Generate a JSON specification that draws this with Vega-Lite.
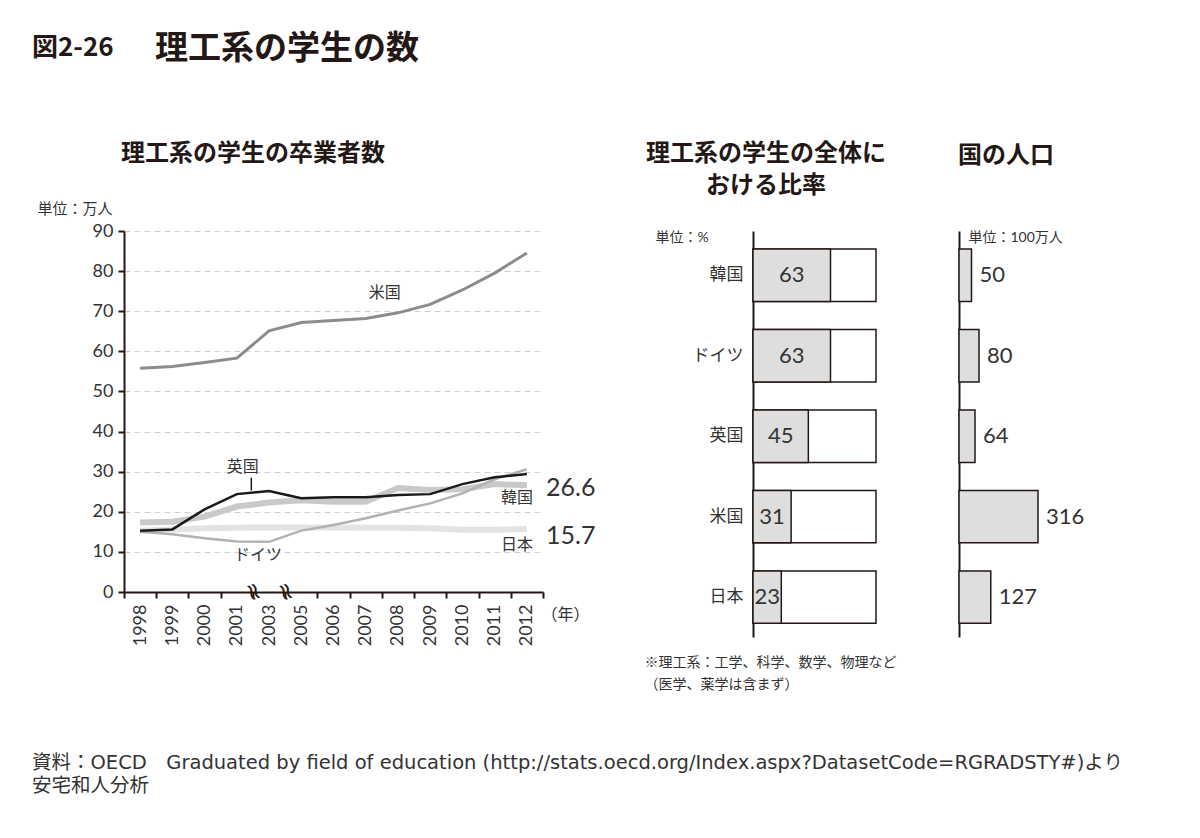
{
  "$schema": "https://vega.github.io/schema/vega-lite/v6.json",
  "background": "white",
  "padding": {"left": 32, "top": 33, "right": 10, "bottom": 10},
  "title": {
    "text": "図2-26", "anchor": "start", "frame": "bounds", "offset": -28,
    "font": "Noto Sans CJK JP", "fontSize": 26, "fontWeight": "bold"
  },
  "datasets": {
    "grad": [
      {"country": "米国", "year": "1998", "value": 55.8}, {"country": "米国", "year": "1999", "value": 56.2},
      {"country": "米国", "year": "2000", "value": 57.2}, {"country": "米国", "year": "2001", "value": 58.3},
      {"country": "米国", "year": "2003", "value": 65.1}, {"country": "米国", "year": "2005", "value": 67.2},
      {"country": "米国", "year": "2006", "value": 67.7}, {"country": "米国", "year": "2007", "value": 68.2},
      {"country": "米国", "year": "2008", "value": 69.6}, {"country": "米国", "year": "2009", "value": 71.7},
      {"country": "米国", "year": "2010", "value": 75.3}, {"country": "米国", "year": "2011", "value": 79.5},
      {"country": "米国", "year": "2012", "value": 84.5},
      {"country": "英国", "year": "1998", "value": 15.3}, {"country": "英国", "year": "1999", "value": 15.6},
      {"country": "英国", "year": "2000", "value": 20.6}, {"country": "英国", "year": "2001", "value": 24.4},
      {"country": "英国", "year": "2003", "value": 25.2}, {"country": "英国", "year": "2005", "value": 23.4},
      {"country": "英国", "year": "2006", "value": 23.6}, {"country": "英国", "year": "2007", "value": 23.6},
      {"country": "英国", "year": "2008", "value": 24.2}, {"country": "英国", "year": "2009", "value": 24.4},
      {"country": "英国", "year": "2010", "value": 26.9}, {"country": "英国", "year": "2011", "value": 28.6},
      {"country": "英国", "year": "2012", "value": 29.4},
      {"country": "韓国", "year": "1998", "value": 17.3}, {"country": "韓国", "year": "1999", "value": 17.5},
      {"country": "韓国", "year": "2000", "value": 18.8}, {"country": "韓国", "year": "2001", "value": 21.3},
      {"country": "韓国", "year": "2003", "value": 22.3}, {"country": "韓国", "year": "2005", "value": 22.9},
      {"country": "韓国", "year": "2006", "value": 22.5}, {"country": "韓国", "year": "2007", "value": 22.5},
      {"country": "韓国", "year": "2008", "value": 25.9}, {"country": "韓国", "year": "2009", "value": 25.4},
      {"country": "韓国", "year": "2010", "value": 25.6}, {"country": "韓国", "year": "2011", "value": 26.9},
      {"country": "韓国", "year": "2012", "value": 26.6},
      {"country": "ドイツ", "year": "1998", "value": 15.0}, {"country": "ドイツ", "year": "1999", "value": 14.4},
      {"country": "ドイツ", "year": "2000", "value": 13.4}, {"country": "ドイツ", "year": "2001", "value": 12.6},
      {"country": "ドイツ", "year": "2003", "value": 12.5}, {"country": "ドイツ", "year": "2005", "value": 15.3},
      {"country": "ドイツ", "year": "2006", "value": 16.7}, {"country": "ドイツ", "year": "2007", "value": 18.4},
      {"country": "ドイツ", "year": "2008", "value": 20.3}, {"country": "ドイツ", "year": "2009", "value": 22.1},
      {"country": "ドイツ", "year": "2010", "value": 24.6}, {"country": "ドイツ", "year": "2011", "value": 28.1},
      {"country": "ドイツ", "year": "2012", "value": 30.6},
      {"country": "日本", "year": "1998", "value": 15.3}, {"country": "日本", "year": "1999", "value": 15.6},
      {"country": "日本", "year": "2000", "value": 15.9}, {"country": "日本", "year": "2001", "value": 16.0},
      {"country": "日本", "year": "2003", "value": 16.1}, {"country": "日本", "year": "2005", "value": 16.1},
      {"country": "日本", "year": "2006", "value": 16.1}, {"country": "日本", "year": "2007", "value": 16.0},
      {"country": "日本", "year": "2008", "value": 16.0}, {"country": "日本", "year": "2009", "value": 15.9},
      {"country": "日本", "year": "2010", "value": 15.5}, {"country": "日本", "year": "2011", "value": 15.5},
      {"country": "日本", "year": "2012", "value": 15.7}
    ],
    "bars": [
      {"country": "韓国", "ratio": 63, "pop": 50},
      {"country": "ドイツ", "ratio": 63, "pop": 80},
      {"country": "英国", "ratio": 45, "pop": 64},
      {"country": "米国", "ratio": 31, "pop": 316},
      {"country": "日本", "ratio": 23, "pop": 127}
    ]
  },
  "vconcat": [
    {
      "title": {
        "text": "理工系の学生の数", "anchor": "start", "frame": "bounds", "dx": 123, "offset": 76,
        "font": "Noto Sans CJK JP", "fontSize": 33, "fontWeight": "bold"
      },
      "vconcat": [
        {
          "title": {
            "text": ["資料：OECD　Graduated by field of education (http://stats.oecd.org/Index.aspx?DatasetCode=RGRADSTY#)より", "安宅和人分析"],
            "orient": "bottom", "anchor": "start", "frame": "bounds", "dx": -5, "offset": 63,
            "font": "DejaVu Sans, Noto Sans CJK JP", "fontSize": 19.5, "fontWeight": "normal", "lineHeight": 23, "color": "#333"
          },
          "spacing": 48,
          "resolve": {"scale": {"x": "independent", "y": "independent"}},
          "hconcat": [
            {
              "width": 419, "height": 361,
              "title": {"text": "理工系の学生の卒業者数", "anchor": "start", "frame": "group", "dx": -3, "offset": 35,
                        "font": "Noto Sans CJK JP", "fontSize": 24, "fontWeight": "bold"},
              "layer": [
                {
                  "data": {"name": "grad"},
                  "transform": [{"filter": "datum.country === '日本'"}],
                  "mark": {"type": "line", "color": "#e3e3e3", "strokeWidth": 6},
                  "encoding": {
                    "x": {"field": "year", "type": "ordinal", "bandPosition": 0.5,
                          "scale": {"type": "band", "domain": ["1998", "1999", "2000", "2001", "2003", "2005", "2006", "2007", "2008", "2009", "2010", "2011", "2012"], "paddingInner": 0, "paddingOuter": 0},
                          "axis": {"title": "（年）", "titleX": 441, "titleY": 22, "titleAlign": "center", "titleBaseline": "middle", "titleFontSize": 16,
                                   "labelAngle": -90, "labelFontSize": 18, "labelPadding": 6, "tickBand": "extent", "tickSize": 6, "tickWidth": 2,
                                   "domainWidth": 2, "grid": false}},
                    "y": {"field": "value", "type": "quantitative", "scale": {"domain": [0, 90], "nice": false},
                          "axis": {"values": [0, 10, 20, 30, 40, 50, 60, 70, 80, 90], "grid": true, "gridDash": [6, 4], "gridColor": "#d0d0d0",
                                   "domainWidth": 2, "tickSize": 6, "tickWidth": 2, "labelFontSize": 18, "labelPadding": 5,
                                   "title": "単位：万人", "titleAngle": 0, "titleAlign": "left", "titleBaseline": "middle",
                                   "titleX": -87, "titleY": -23, "titleFontSize": 15}}
                  }
                },
                {
                  "data": {"name": "grad"},
                  "transform": [{"filter": "datum.country === '韓国'"}],
                  "mark": {"type": "line", "color": "#c9c9c9", "strokeWidth": 6},
                  "encoding": {"x": {"field": "year", "type": "ordinal", "bandPosition": 0.5}, "y": {"field": "value", "type": "quantitative"}}
                },
                {
                  "data": {"name": "grad"},
                  "transform": [{"filter": "datum.country === 'ドイツ'"}],
                  "mark": {"type": "line", "color": "#b2b2b2", "strokeWidth": 2.5},
                  "encoding": {"x": {"field": "year", "type": "ordinal", "bandPosition": 0.5}, "y": {"field": "value", "type": "quantitative"}}
                },
                {
                  "data": {"name": "grad"},
                  "transform": [{"filter": "datum.country === '米国'"}],
                  "mark": {"type": "line", "color": "#8c8c8c", "strokeWidth": 3},
                  "encoding": {"x": {"field": "year", "type": "ordinal", "bandPosition": 0.5}, "y": {"field": "value", "type": "quantitative"}}
                },
                {
                  "data": {"name": "grad"},
                  "transform": [{"filter": "datum.country === '英国'"}],
                  "mark": {"type": "line", "color": "#1a1a1a", "strokeWidth": 2.5},
                  "encoding": {"x": {"field": "year", "type": "ordinal", "bandPosition": 0.5}, "y": {"field": "value", "type": "quantitative"}}
                },
                {
                  "data": {"values": [{"year": "2001", "value": 28.5, "value2": 25.3}]},
                  "mark": {"type": "rule", "color": "#1a1a1a", "strokeWidth": 1.5},
                  "encoding": {"x": {"field": "year", "type": "ordinal", "bandPosition": 0.95}, "y": {"field": "value", "type": "quantitative"}, "y2": {"field": "value2"}}
                },
                {
                  "data": {"values": [{"year": "2001", "value": 0}, {"year": "2003", "value": 0}]},
                  "mark": {"type": "text", "text": "≈", "angle": 70, "fontSize": 24, "color": "#231815", "font": "DejaVu Sans"},
                  "encoding": {"x": {"field": "year", "type": "ordinal", "bandPosition": 1}, "y": {"field": "value", "type": "quantitative"}}
                },
                {
                  "data": {"values": [{"year": "2008", "value": 74.6, "label": "米国"}]},
                  "mark": {"type": "text", "fontSize": 16, "dx": 3, "color": "#333"},
                  "encoding": {"x": {"field": "year", "type": "ordinal", "bandPosition": 0}, "y": {"field": "value", "type": "quantitative"}, "text": {"field": "label"}}
                },
                {
                  "data": {"values": [{"year": "2001", "value": 31.2, "label": "英国"}]},
                  "mark": {"type": "text", "fontSize": 16, "dx": 6, "color": "#333"},
                  "encoding": {"x": {"field": "year", "type": "ordinal", "bandPosition": 0.5}, "y": {"field": "value", "type": "quantitative"}, "text": {"field": "label"}}
                },
                {
                  "data": {"values": [{"year": "2003", "value": 9.2, "label": "ドイツ"}]},
                  "mark": {"type": "text", "fontSize": 16, "dx": 5, "color": "#333"},
                  "encoding": {"x": {"field": "year", "type": "ordinal", "bandPosition": 0}, "y": {"field": "value", "type": "quantitative"}, "text": {"field": "label"}}
                },
                {
                  "data": {"values": [{"year": "2012", "value": 23.4, "label": "韓国"}, {"year": "2012", "value": 11.7, "label": "日本"}]},
                  "mark": {"type": "text", "fontSize": 16, "dx": -10, "color": "#333"},
                  "encoding": {"x": {"field": "year", "type": "ordinal", "bandPosition": 0.5}, "y": {"field": "value", "type": "quantitative"}, "text": {"field": "label"}}
                },
                {
                  "data": {"values": [{"year": "2012", "value": 25.9, "label": "26.6"}, {"year": "2012", "value": 14.0, "label": "15.7"}]},
                  "mark": {"type": "text", "fontSize": 25, "align": "left", "dx": 3, "color": "#333"},
                  "encoding": {"x": {"field": "year", "type": "ordinal", "bandPosition": 1}, "y": {"field": "value", "type": "quantitative"}, "text": {"field": "label"}}
                }
              ]
            },
            {
              "width": 123, "height": 406,
              "title": {"text": ["理工系の学生の全体に", "おける比率"], "anchor": "middle", "frame": "bounds", "dx": -11, "offset": 32, "lineHeight": 32,
                        "font": "Noto Sans CJK JP", "fontSize": 24, "fontWeight": "bold"},
              "data": {"name": "bars"},
              "encoding": {
                "y": {"field": "country", "type": "nominal", "sort": ["韓国", "ドイツ", "英国", "米国", "日本"],
                      "scale": {"paddingInner": 0.35, "paddingOuter": 0.197, "align": 0.57},
                      "axis": {"title": "単位：%", "titleAngle": 0, "titleAlign": "left", "titleBaseline": "middle", "titleX": -98, "titleY": 6,
                               "titleFontSize": 14, "ticks": false, "labelPadding": 10, "labelFontSize": 17, "domainWidth": 2, "grid": false}}
              },
              "layer": [
                {
                  "mark": {"type": "bar", "fill": "white", "stroke": "#231815", "strokeWidth": 1.5},
                  "encoding": {"x": {"datum": 100, "type": "quantitative", "scale": {"domain": [0, 100]},
                                     "axis": {"orient": "bottom", "labels": false, "ticks": false, "domain": false, "grid": false,
                                              "title": ["※理工系：工学、科学、数学、物理など\u3000\u200B", "（医学、薬学は含まず）"],
                                              "titleX": -109, "titleY": 18, "titleAlign": "left", "titleBaseline": "top",
                                              "titleFontSize": 14, "titleLineHeight": 22}}}
                },
                {
                  "mark": {"type": "bar", "fill": "#dedede", "stroke": "#231815", "strokeWidth": 1.5},
                  "encoding": {"x": {"field": "ratio", "type": "quantitative", "scale": {"domain": [0, 100]}, "axis": null}}
                },
                {
                  "mark": {"type": "text", "fontSize": 22, "color": "#333"},
                  "encoding": {"x": {"field": "ratio", "type": "quantitative", "scale": {"domain": [0, 200]}, "axis": null},
                               "text": {"field": "ratio"}}
                }
              ],
              "resolve": {"scale": {"x": "independent"}}
            },
            {
              "width": 100, "height": 406,
              "title": {"text": "国の人口", "anchor": "start", "frame": "group", "dx": -1, "offset": 62,
                        "font": "Noto Sans CJK JP", "fontSize": 24, "fontWeight": "bold"},
              "data": {"name": "bars"},
              "encoding": {
                "y": {"field": "country", "type": "nominal", "sort": ["韓国", "ドイツ", "英国", "米国", "日本"],
                      "scale": {"paddingInner": 0.35, "paddingOuter": 0.197, "align": 0.57},
                      "axis": {"title": "単位：100万人", "titleAngle": 0, "titleAlign": "left", "titleBaseline": "middle", "titleX": 9, "titleY": 6,
                               "titleFontSize": 14, "ticks": false, "labels": false, "domainWidth": 2, "grid": false}},
                "x": {"field": "pop", "type": "quantitative", "scale": {"domain": [0, 400]}, "axis": null}
              },
              "layer": [
                {"mark": {"type": "bar", "fill": "#dedede", "stroke": "#231815", "strokeWidth": 1.5}},
                {"mark": {"type": "text", "fontSize": 22, "align": "left", "dx": 8, "color": "#333"},
                 "encoding": {"text": {"field": "pop"}}}
              ]
            }
          ]
        }
      ]
    }
  ],
  "config": {
    "view": {"stroke": null},
    "font": "Lato, Noto Sans CJK JP",
    "title": {"color": "#231815"},
    "axis": {"labelColor": "#333", "titleColor": "#333", "titleFontWeight": "normal", "domainColor": "#231815", "tickColor": "#231815",
             "labelFont": "Lato, Noto Sans CJK JP", "titleFont": "Lato, Noto Sans CJK JP"}
  }
}
